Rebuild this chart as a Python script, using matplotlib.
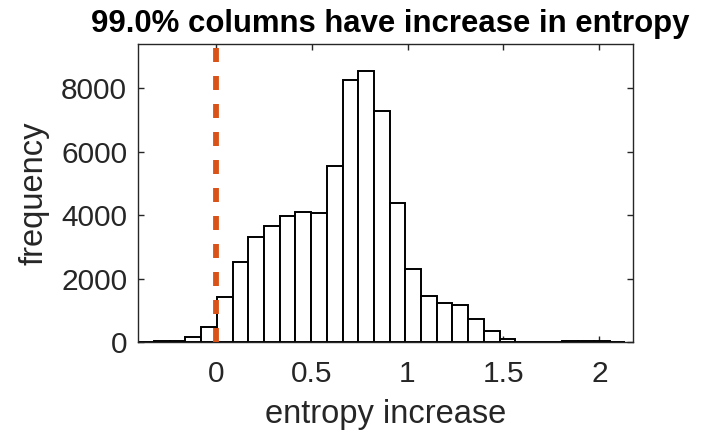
import matplotlib
matplotlib.use("Agg")
import matplotlib.pyplot as plt

plt.rcParams['font.family'] = ['Liberation Sans', 'DejaVu Sans']

# histogram of entropy increase (bin counts)
bin_start = -0.4036
bin_width = 0.0819
counts = [8, 40, 45, 170, 495, 1420, 2540, 3330, 3670, 3970, 4095, 4075,
          5560, 8265, 8560, 7275, 4390, 2295, 1465, 1230, 1180, 725, 360,
          95, 25, 15, 15, 40, 40, 50, 10]
lefts = [bin_start + i * bin_width for i in range(len(counts))]

xticks = [0, 0.5, 1, 1.5, 2]
xticklabels = ['0', '0.5', '1', '1.5', '2']
yticks = [0, 2000, 4000, 6000, 8000]

title = '99.0% columns have increase in entropy'
xlab = 'entropy increase'
ylab = 'frequency'

fig = plt.figure(figsize=(7.04, 4.34), dpi=100)
ax = fig.add_axes([0.1965, 0.2113, 0.8987 - 0.1965, 0.898 - 0.2113])

ax.bar(lefts, counts, width=bin_width, align='edge', facecolor='white',
       edgecolor='black', linewidth=1.4, zorder=2)
ax.axvline(0, color='#D95319', lw=4.2, ls=(0, (2.4, 2.4)), zorder=3)

ax.set_xlim(-0.4036, 2.174)
ax.set_ylim(0, 9390)
ax.set_xticks(xticks)
ax.set_xticklabels(xticklabels)
ax.set_yticks(yticks)

grey = '#262626'
for s in ax.spines.values():
    s.set_color(grey)
    s.set_linewidth(1.0)
ax.tick_params(direction='in', length=4, width=1.0, color=grey,
               labelcolor=grey, labelsize=21.5, top=True, right=True)
ax.tick_params(axis='x', pad=13)
ax.tick_params(axis='y', pad=8)

ax.set_title(title, fontsize=22.4, fontweight='bold', pad=9, x=0.51)
ax.set_xlabel(xlab, fontsize=23.5, color=grey, labelpad=8)
ax.set_ylabel(ylab, fontsize=23.5, color=grey, labelpad=8)

fig.savefig('out.png', dpi=100)
